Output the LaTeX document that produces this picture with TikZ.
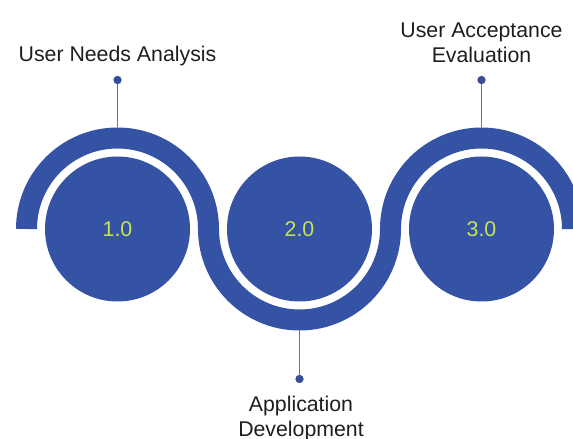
\documentclass[tikz,border=0pt]{standalone}
\usepackage{fontspec}
\setmainfont{Liberation Sans}
\definecolor{bandblue}{RGB}{53,83,165}
\definecolor{pinline}{RGB}{95,115,175}
\definecolor{pindot}{RGB}{55,78,150}
\definecolor{numcol}{RGB}{200,228,80}
\definecolor{txtcol}{RGB}{30,30,30}
\begin{document}
\begin{tikzpicture}[x=1pt,y=1pt,
  stepcircle/.style={circle,fill=bandblue,minimum size=145pt,inner sep=0pt,
     text=numcol,font=\fontsize{21.3}{25}\selectfont},
  band/.style={draw=bandblue,line width=21pt,line cap=butt},
  pinline/.style={draw=pinline,line width=1.5pt},
  pindot/.style={circle,fill=pindot,minimum size=8pt,inner sep=0pt},
  label/.style={text=txtcol,font=\fontsize{21.3}{25.5}\selectfont,align=center,inner sep=0pt}
]
\useasboundingbox (0,0) rectangle (573,439);
\clip (0,0) rectangle (573,439);
% band
\draw[band] (26.5,210) arc[start angle=180,end angle=0,radius=91]
  arc[start angle=180,end angle=360,radius=91]
  arc[start angle=180,end angle=0,radius=91];
% circles
\node[stepcircle] (c1) at (117.5,210) {1.0};
\node[stepcircle] (c2) at (299.5,210) {2.0};
\node[stepcircle] (c3) at (481.5,210) {3.0};
% pins
\coordinate (t1) at (117.5,311.5);
\coordinate (t2) at (299.5,108.5);
\coordinate (t3) at (481.5,311.5);
\node[pindot] (d1) at (117.5,359) {};
\node[pindot] (d2) at (299.5,60) {};
\node[pindot] (d3) at (481.5,359) {};
\draw[pinline] (t1) -- (d1.center);
\draw[pinline] (t2) -- (d2.center);
\draw[pinline] (t3) -- (d3.center);
\node[pindot] at (d1) {};
\node[pindot] at (d2) {};
\node[pindot] at (d3) {};
% labels
\node[label,anchor=base] (l1) at (117.5,377) {User Needs Analysis};
\node[label,anchor=base] (l3) at (481.5,376) {User Acceptance\\Evaluation};
\node[label,anchor=base] (l2) at (301,2) {Application\\Development};
\end{tikzpicture}
\end{document}
